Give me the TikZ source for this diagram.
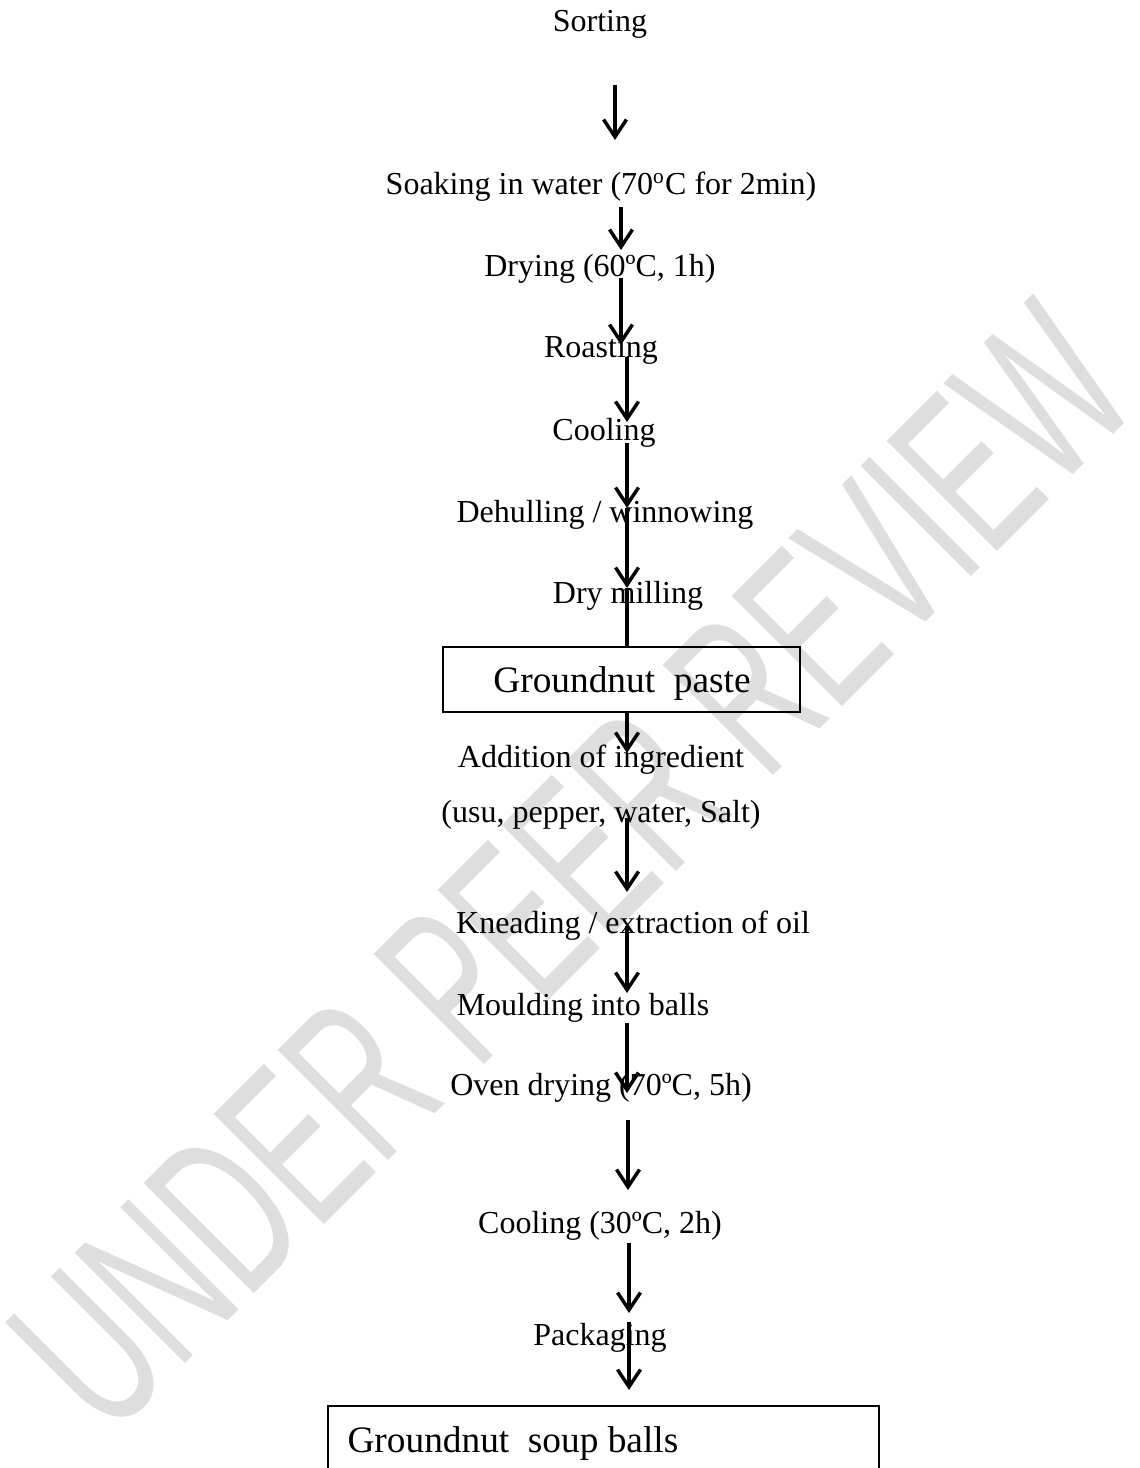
\documentclass[tikz,border=0pt]{standalone}
\usepackage{fontspec}
\setmainfont{Liberation Serif}
\newfontfamily\wmfont{Liberation Sans}
\usetikzlibrary{arrows.meta}
\begin{document}
\begin{tikzpicture}[x=0.375pt,y=-0.375pt,
  lbl/.style={anchor=base,inner sep=0pt,font=\fontsize{12}{14}\selectfont},
  boxlbl/.style={font=\fontsize{14}{16}\selectfont},
  flow/.style={line width=1.3pt,-{Straight Barb[length=6.5pt,width=8.6pt]}},
  plainline/.style={line width=1.3pt},
  frame/.style={draw,line width=0.8pt,inner sep=0pt},
  wmark/.style={inner sep=0pt,text=black!13,font=\wmfont\fontsize{85}{85}\selectfont}]
\useasboundingbox (0,0) rectangle (1139,1468);
\clip (0,0) rectangle (1139,1468);
% watermark
\node[wmark,rotate=45,xscale=0.6] (wm) at (572,868) {UNDER PEER REVIEW};
% steps
\node[lbl] (sort)   at (600,32)  {Sorting};
\node[lbl] (soak)   at (601,195) {Soaking in water (70\textsuperscript{o}C for 2min)};
\node[lbl] (dry)    at (600,277) {Drying (60ºC, 1h)};
\node[lbl] (roast)  at (601,358) {Roasting};
\node[lbl] (cool1)  at (604,440) {Cooling};
\node[lbl] (dehull) at (605,522) {Dehulling / winnowing};
\node[lbl] (mill)   at (628,603) {Dry milling};
\node[frame,minimum width=133.9pt,minimum height=24.4pt] (paste) at (621.5,679.5) {};
\node[lbl,boxlbl] (pastet) at (622,692) {Groundnut\ \ paste};
\node[lbl] (add)    at (601,767) {Addition of ingredient};
\node[lbl] (ingr)   at (601,822) {(usu, pepper, water, Salt)};
\node[lbl] (knead)  at (633,933) {Kneading / extraction of oil};
\node[lbl] (mould)  at (583,1015) {Moulding into balls};
\node[lbl] (oven)   at (601,1095) {Oven drying (70ºC, 5h)};
\node[lbl] (cool2)  at (600,1233) {Cooling (30ºC, 2h)};
\node[lbl] (pack)   at (600,1345) {Packaging};
\node[frame,anchor=north west,minimum width=206.6pt,minimum height=40pt] (balls) at (327,1405) {};
\node[anchor=base west,inner sep=0pt,boxlbl] (ballst) at (347,1452) {Groundnut\ \ soup balls};
% arrow ends
\coordinate (a1s) at (615,85);   \coordinate (a1e) at (615,140);
\coordinate (a2s) at (621,207);  \coordinate (a2e) at (621,250);
\coordinate (a3s) at (621,278);  \coordinate (a3e) at (621,345);
\coordinate (a4s) at (627,357);  \coordinate (a4e) at (627,422);
\coordinate (a5s) at (627,443);  \coordinate (a5e) at (627,508);
\coordinate (a6e) at (627,588);
\coordinate (a7e) at (627,647);
\coordinate (a8s) at (627,712);  \coordinate (a8e) at (627,753);
\coordinate (a9s) at (627,818);  \coordinate (a9e) at (627,892);
\coordinate (a10s) at (627,926); \coordinate (a10e) at (627,993);
\coordinate (a11s) at (627,1023); \coordinate (a11e) at (627,1093);
\coordinate (a12s) at (628,1120); \coordinate (a12e) at (628,1190);
\coordinate (a13s) at (629,1243); \coordinate (a13e) at (629,1313);
\coordinate (a14s) at (629,1322); \coordinate (a14e) at (629,1390);
% connectors
\draw[flow] (a1s) -- (a1e);
\draw[flow] (a2s) -- (a2e);
\draw[flow] (a3s) -- (a3e);
\draw[flow] (a4s) -- (a4e);
\draw[flow] (a5s) -- (a5e);
\draw[flow] (a5e) -- (a6e);
\draw[plainline] (a6e) -- (a7e);
\draw[flow] (a8s) -- (a8e);
\draw[flow] (a9s) -- (a9e);
\draw[flow] (a10s) -- (a10e);
\draw[flow] (a11s) -- (a11e);
\draw[flow] (a12s) -- (a12e);
\draw[flow] (a13s) -- (a13e);
\draw[flow] (a14s) -- (a14e);
\end{tikzpicture}
\end{document}
